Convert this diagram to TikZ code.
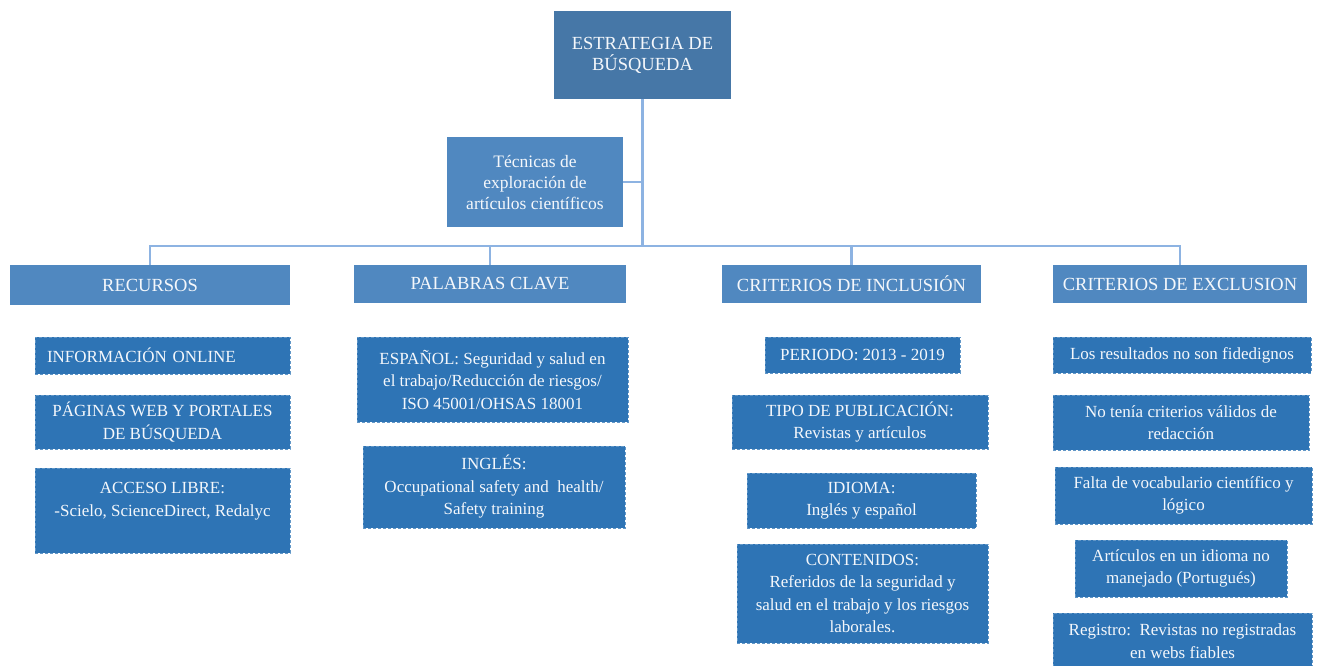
\documentclass[tikz,border=0pt]{standalone}
\usepackage{fontspec}
\setmainfont{Liberation Serif}
\usepackage{xcolor}
\usepackage{tikz}
\usetikzlibrary{calc}

\definecolor{topblue}{HTML}{4677A7}
\definecolor{headblue}{HTML}{5088C0}
\definecolor{itemblue}{HTML}{2E74B5}
\definecolor{linkblue}{HTML}{8DB3E2}
\definecolor{boxtext}{HTML}{F4F7FB}

\newcommand{\headsize}{\fontsize{18.5}{21}\selectfont}
\newcommand{\itemsize}{\fontsize{17}{22.5}\selectfont}

\tikzset{
  topbox/.style={fill=topblue,text=boxtext,inner sep=0pt,align=center,font=\headsize},
  headbox/.style={fill=headblue,text=boxtext,inner sep=0pt,align=center,font=\headsize},
  itembox/.style={fill=itemblue,text=boxtext,inner sep=0pt,align=center,font=\itemsize,
    draw=itemblue!75!white,densely dashed,line width=0.4pt},
  link/.style={draw=linkblue,line width=2.2pt}
}

\begin{document}
\begin{tikzpicture}[x=1pt,y=-1pt]
        \useasboundingbox (0,0) rectangle (1317,665);

        % top of the tree
        \node[topbox,minimum width=177pt,minimum height=88pt] (top) at (642.5,55) {ESTRATEGIA DE\\BÚSQUEDA};
        \node[headbox,minimum width=176pt,minimum height=90pt,font=\fontsize{17.5}{21}\selectfont] (tec) at (535,182) {Técnicas de\\exploración de\\artículos científicos};
        \coordinate (bus) at (642.5,246);

        % the four headers
        \node[headbox,minimum width=280pt,minimum height=40pt] (recursos) at (150,285) {RECURSOS};
        \node[headbox,minimum width=272pt,minimum height=38pt] (palabras) at (490,284) {PALABRAS CLAVE};
        \node[headbox,minimum width=259pt,minimum height=38pt] (inclusion) at (851.5,284) {CRITERIOS DE INCLUSIÓN};
        \node[headbox,minimum width=254pt,minimum height=38pt] (exclusion) at (1180,284) {CRITERIOS DE EXCLUSION};

        \draw[link] (top.south) -- (bus);
        \draw[link] (tec.east) -- (tec.east -| top.south);
        \foreach \h in {recursos,palabras,inclusion,exclusion}
            \draw[link] (bus) -| (\h.north);

        % recursos
        \node[itembox,minimum height=37pt,inner xsep=12pt,text width=231pt,align=left] (info) at (162.5,355.5) {INFORMACIÓN ONLINE};
        \node[itembox,minimum width=255pt,minimum height=54pt] (paginas) at (162.5,422) {PÁGINAS WEB Y PORTALES\\DE BÚSQUEDA};
        \node[itembox,minimum width=255pt,minimum height=85pt] (acceso) at (162.5,510.5) {ACCESO LIBRE:\\-Scielo, ScienceDirect, Redalyc\\\mbox{}};

        % palabras clave
        \node[itembox,minimum width=271pt,minimum height=85pt] (espanol) at (492.5,379.5) {ESPAÑOL: Seguridad y salud en\\el trabajo/Reducción de riesgos/\\ISO 45001/OHSAS 18001};
        \node[itembox,minimum width=262pt,minimum height=82pt] (ingles) at (494,487) {INGLÉS:\\Occupational safety and\ \ health/\\Safety training};

        % criterios de inclusion
        \node[itembox,minimum width=195pt,minimum height=36pt] (periodo) at (862.5,355) {PERIODO: 2013 - 2019};
        \node[itembox,minimum width=256pt,minimum height=54pt] (tipo) at (860,422) {TIPO DE PUBLICACIÓN:\\Revistas y artículos};
        \node[itembox,minimum width=229pt,minimum height=55pt] (idioma) at (861.5,500.5) {IDIOMA:\\Inglés y español};
        \node[itembox,minimum width=251pt,minimum height=99pt] (contenidos) at (862.5,593.5) {CONTENIDOS:\\Referidos de la seguridad y\\salud en el trabajo y los riesgos\\laborales.};

        % criterios de exclusion
        \node[itembox,minimum width=258pt,minimum height=36pt] (resultados) at (1182,355) {Los resultados no son fidedignos};
        \node[itembox,minimum width=256pt,minimum height=55pt] (notenia) at (1181,422.5) {No tenía criterios válidos de\\redacción};
        \node[itembox,minimum width=257pt,minimum height=57pt] (falta) at (1183.5,495.5) {Falta de vocabulario científico y\\lógico};
        \node[itembox,minimum width=212pt,minimum height=57pt] (articulos) at (1181,568.5) {Artículos en un idioma no\\manejado (Portugués)};
        \node[itembox,minimum width=259pt,minimum height=56pt] (registro) at (1182.5,641) {Registro:\ \ Revistas no registradas\\en webs fiables};
\end{tikzpicture}
\end{document}
